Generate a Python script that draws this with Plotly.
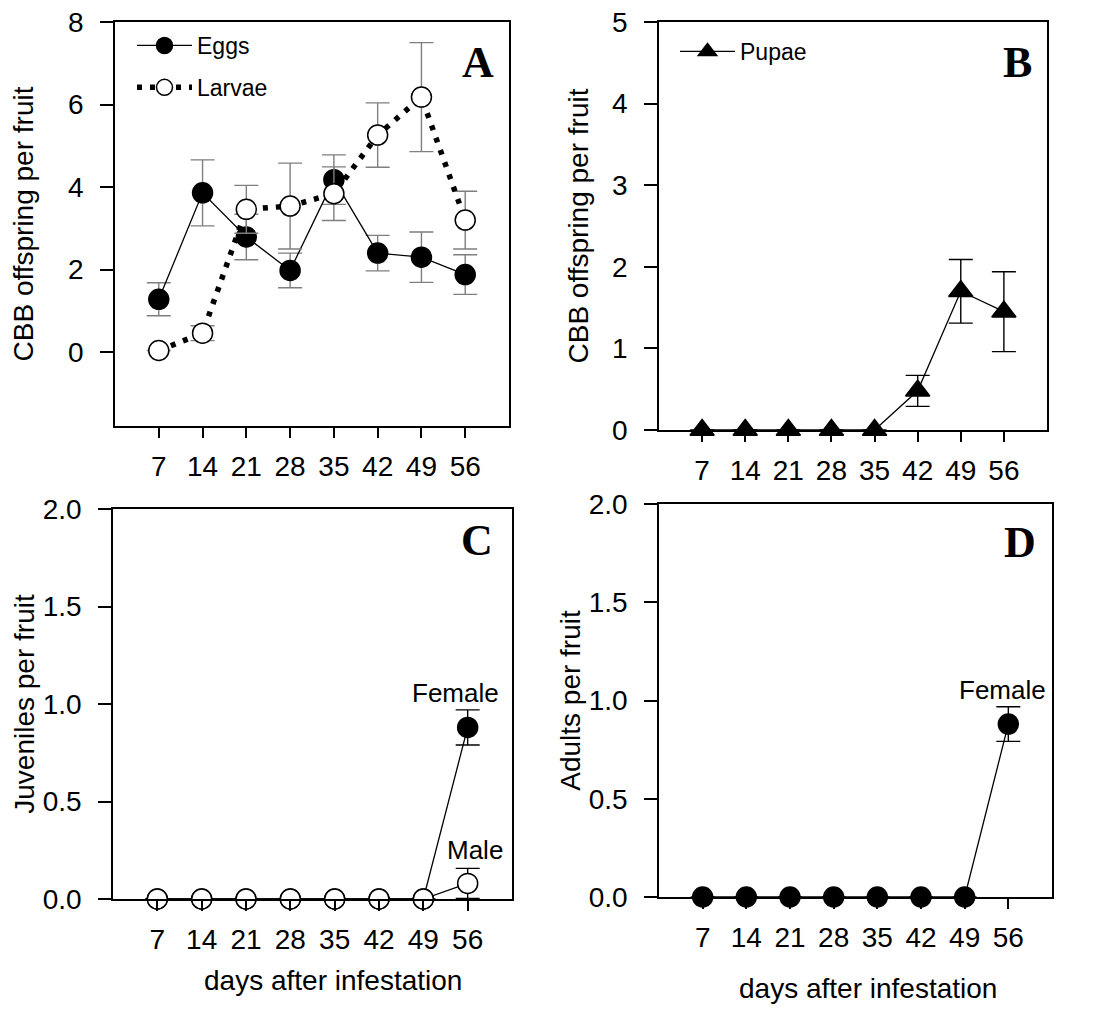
import plotly.graph_objects as go

# ---------------- data ----------------
days = [7, 14, 21, 28, 35, 42, 49, 56]

eggs = [1.28, 3.86, 2.79, 1.98, 4.18, 2.40, 2.30, 1.88]
eggs_se = [0.40, 0.80, 0.55, 0.42, 0.60, 0.43, 0.61, 0.48]

larvae = [0.04, 0.46, 3.46, 3.54, 3.84, 5.26, 6.18, 3.20]
larvae_se = [None, 0.18, 0.58, 1.04, 0.65, 0.78, 1.32, 0.70]

pupae = [0, 0, 0, 0, 0, 0.48, 1.70, 1.45]
pupae_se = [None, None, None, None, None, 0.19, 0.39, 0.49]

juv_female = [0, 0, 0, 0, 0, 0, 0, 0.88]
juv_female_se = [None, None, None, None, None, None, None, 0.09]
juv_male = [0, 0, 0, 0, 0, 0, 0, 0.08]
juv_male_se = [None, None, None, None, None, None, None, 0.077]

adult_female = [0, 0, 0, 0, 0, 0, 0, 0.88]
adult_female_se = [None, None, None, None, None, None, None, 0.088]

tick_days = [7, 14, 21, 28, 35, 42, 49, 56]

# ---------------- layout helpers ----------------
OFF = 8  # page body margin
W, H = 1093 - 2 * OFF, 1032 - 2 * OFF
FONT = "Arial, Liberation Sans, sans-serif"
SERIF = "Times New Roman, Liberation Serif, serif"
TICKSIZE = 28


def px(x):
    return (x - OFF) / W


def py(y):
    return 1 - (y - OFF) / H


def dx(a, b):
    return [px(a), px(b)]


def dy(top, bottom):
    return [py(bottom), py(top)]


fig = go.Figure()


def add(x, y, err, name, ax, symbol, fill, dash, lw, errcolor, size=20,
        legend=None, showlegend=False):
    xa = "x" if ax == 1 else f"x{ax}"
    ya = "y" if ax == 1 else f"y{ax}"
    kw = {}
    if legend:
        kw["legend"] = legend
    fig.add_trace(go.Scatter(
        x=x, y=y, xaxis=xa, yaxis=ya, mode="lines+markers", name=name,
        line=dict(color="black", width=lw, dash=dash),
        marker=dict(symbol=symbol, size=size, color=fill,
                    line=dict(color="black", width=1.5)),
        error_y=dict(type="data", array=err, color=errcolor, thickness=1.4,
                     width=12, visible=True),
        cliponaxis=False, showlegend=showlegend, legendgroup=name, **kw))


# Panel A
add(days, eggs, eggs_se, "Eggs", 1, "circle", "black", "solid", 1.3,
    "#7f7f7f", legend="legend", showlegend=True)
add(days, larvae, larvae_se, "Larvae", 1, "circle", "white", "5px,8px", 5.5,
    "#7f7f7f", legend="legend", showlegend=True)
# Panel B
add(days, pupae, pupae_se, "Pupae", 2, "triangle-up", "black", "solid", 1.3,
    "black", size=21, legend="legend2", showlegend=True)
# Panel C
add(days, juv_female, juv_female_se, "Female", 3, "circle", "black", "solid",
    1.3, "black")
add(days, juv_male, juv_male_se, "Male", 3, "circle", "white", "solid",
    1.3, "black")
# Panel D
add(days, adult_female, adult_female_se, "Female adults", 4, "circle",
    "black", "solid", 1.3, "black")


def xaxis(domain, anchor):
    return dict(domain=domain, anchor=anchor, range=[0, 63],
                tickvals=tick_days, ticks="outside", ticklen=10, tickwidth=1.5,
                tickcolor="black", showline=True, mirror=True,
                linecolor="black", linewidth=1.5, showgrid=False,
                zeroline=False, ticklabelstandoff=5, automargin=False,
                ticklabeloverflow="allow",
                tickfont=dict(size=TICKSIZE, family=FONT, color="black"))


def yaxis(domain, anchor, rng, tickvals, title, standoff, fmt=None):
    d = dict(domain=domain, anchor=anchor, range=rng, tickvals=tickvals,
             ticks="outside", ticklen=13, tickwidth=1.5, tickcolor="black",
             showline=True, mirror=True, linecolor="black", linewidth=1.5,
             showgrid=False, zeroline=False, ticklabelstandoff=11,
             automargin=False, ticklabeloverflow="allow",
             tickfont=dict(size=TICKSIZE, family=FONT, color="black"),
             title=dict(text=title, standoff=standoff,
                        font=dict(size=28, family=FONT, color="black")))
    if fmt:
        d["tickformat"] = fmt
    return d


fig.update_layout(
    template="none",
    width=W, height=H,
    margin=dict(l=0, r=0, t=0, b=0, autoexpand=False),
    paper_bgcolor="white", plot_bgcolor="white",
    font=dict(family=FONT, color="black"),
    xaxis=xaxis(dx(115, 509), "y"),
    yaxis=yaxis(dy(22, 426), "x", [-1.79, 8], [0, 2, 4, 6, 8],
                "CBB offspring per fruit", 32),
    xaxis2=xaxis(dx(659, 1047), "y2"),
    yaxis2=yaxis(dy(22, 430), "x2", [0, 5], [0, 1, 2, 3, 4, 5],
                 "CBB offspring per fruit", 15),
    xaxis3=xaxis(dx(113, 512), "y3"),
    yaxis3=yaxis(dy(509, 899), "x3", [0, 2], [0, 0.5, 1.0, 1.5, 2.0],
                 "Juveniles per fruit", 0, ".1f"),
    xaxis4=xaxis(dx(659, 1052), "y4"),
    yaxis4=yaxis(dy(504, 897), "x4", [0, 2], [0, 0.5, 1.0, 1.5, 2.0],
                 "Adults per fruit", 0, ".1f"),
    legend=dict(x=px(132), y=py(24), xanchor="left", yanchor="top",
                bgcolor="rgba(0,0,0,0)", tracegroupgap=9, itemwidth=55,
                font=dict(size=23, family=FONT, color="black")),
    legend2=dict(x=px(675), y=py(30), xanchor="left", yanchor="top",
                 bgcolor="rgba(0,0,0,0)", itemwidth=55,
                 font=dict(size=23, family=FONT, color="black")),
)

ann = []
for txt, x, y in [("A", 478, 62), ("B", 1017, 62), ("C", 477, 540),
                  ("D", 1020, 542)]:
    ann.append(dict(text=f"<b>{txt}</b>", x=px(x), y=py(y), xref="paper",
                    yref="paper", showarrow=False, xanchor="center",
                    yanchor="middle",
                    font=dict(size=44, family=SERIF, color="black")))
for txt, x, y in [("Female", 456, 693), ("Male", 475, 850),
                  ("Female", 1002, 690)]:
    ann.append(dict(text=txt, x=px(x), y=py(y), xref="paper",
                    yref="paper", showarrow=False, xanchor="center",
                    yanchor="middle",
                    font=dict(size=26, family=FONT, color="black")))
for x, y in [(333, 980), (868, 988)]:
    ann.append(dict(text="days after infestation", x=px(x), y=py(y),
                    xref="paper", yref="paper", showarrow=False,
                    xanchor="center", yanchor="middle",
                    font=dict(size=28, family=FONT, color="black")))
fig.update_layout(annotations=ann)

fig.write_html("out.html")
